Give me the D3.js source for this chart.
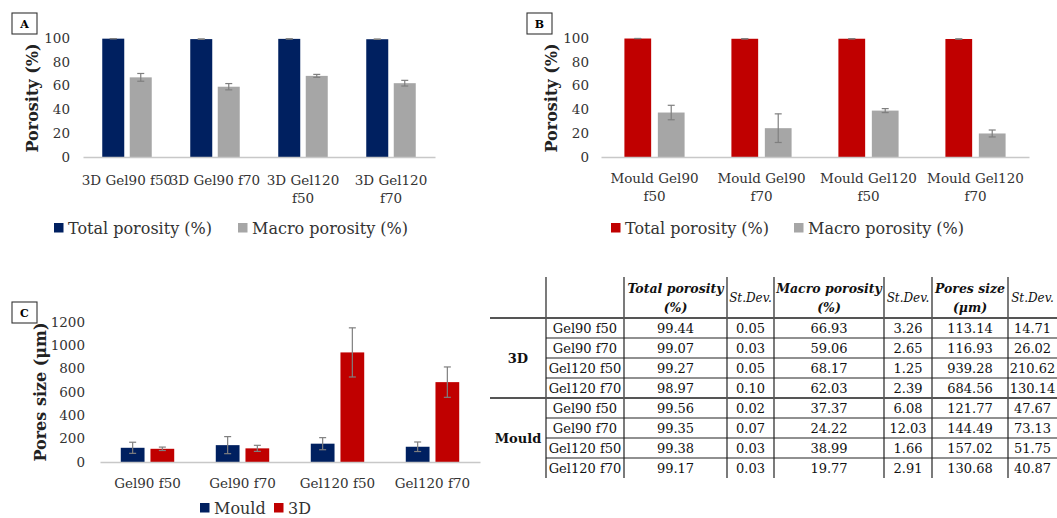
<!DOCTYPE html>
<html>
<head>
<meta charset="utf-8">
<script src="https://cdn.jsdelivr.net/npm/d3@7"></script>
<style>
  body { margin: 0; background: #fff; }
  svg { display: block; font-family: "DejaVu Serif", serif; }
</style>
</head>
<body>
<svg id="chart" width="1057" height="518"></svg>
<script>
const groups = ['Gel90 f50', 'Gel90 f70', 'Gel120 f50', 'Gel120 f70'];

const total3D = [99.44, 99.07, 99.27, 98.97];
const total3DSd = [0.05, 0.03, 0.05, 0.10];
const macro3D = [66.93, 59.06, 68.17, 62.03];
const macro3DSd = [3.26, 2.65, 1.25, 2.39];
const pores3D = [113.14, 116.93, 939.28, 684.56];
const pores3DSd = [14.71, 26.02, 210.62, 130.14];

const totalMould = [99.56, 99.35, 99.38, 99.17];
const totalMouldSd = [0.02, 0.07, 0.03, 0.03];
const macroMould = [37.37, 24.22, 38.99, 19.77];
const macroMouldSd = [6.08, 12.03, 1.66, 2.91];
const poresMould = [121.77, 144.49, 157.02, 130.68];
const poresMouldSd = [47.67, 73.13, 51.75, 40.87];

const labelsA = [['3D Gel90 f50'], ['3D Gel90 f70'], ['3D Gel120', 'f50'], ['3D Gel120', 'f70']];
const labelsB = [['Mould Gel90', 'f50'], ['Mould Gel90', 'f70'], ['Mould Gel120', 'f50'], ['Mould Gel120', 'f70']];
const labelsC = groups.map(g => [g]);

const porosityTicks = [0, 20, 40, 60, 80, 100];
const poreTicks = [0, 200, 400, 600, 800, 1000, 1200];

const tableHeader = [['', ''], ['Total porosity', '(%)'], ['St.Dev.'], ['Macro porosity', '(%)'], ['St.Dev.'], ['Pores size', '(μm)'], ['St.Dev.']];

const navy = '#002060', red = '#c00000', grey = '#a6a6a6', errCol = '#7f7f7f';

const svg = d3.select('#chart');
svg.append('rect').attr('width', 1057).attr('height', 518).attr('fill', '#fff');

function barPanel(o) {
  let g = svg.append('g');

  let x = d3.scaleBand().domain(d3.range(o.labels.length)).range([o.x0, o.x1]);
  let sub = d3.scaleBand().domain(d3.range(o.series.length))
    .range([0, x.bandwidth()]).paddingInner(0.2).paddingOuter(0.7);
  let y = d3.scaleLinear().domain([0, d3.max(o.ticks)]).range([o.y0, o.y1]);

  // y axis labels
  g.append('g')
    .attr('transform', 'translate(' + o.x0 + ',0)')
    .call(d3.axisLeft(y).tickValues(o.ticks).tickFormat(d3.format('d'))
      .tickSize(0).tickPadding(o.x0 - o.tickRight))
    .call(s => s.select('.domain').remove())
    .call(s => s.selectAll('text')
      .attr('font-family', '"DejaVu Serif", serif')
      .attr('font-size', 13.5)
      .attr('fill', '#333'));

  // bars
  o.series.forEach((s, si) => {
    g.append('g').selectAll('rect')
      .data(s.values)
      .join('rect')
      .attr('x', (d, i) => x(i) + sub(si))
      .attr('y', d => y(d))
      .attr('width', sub.bandwidth())
      .attr('height', d => y(0) - y(d))
      .attr('fill', s.color);

    // error bars
    let eb = g.append('g').attr('stroke', errCol).attr('stroke-width', 1.2);
    s.values.forEach((v, i) => {
      let cx = x(i) + sub(si) + sub.bandwidth() / 2;
      let lo = y(v - s.sd[i]), hi = y(v + s.sd[i]);
      eb.append('line').attr('x1', cx).attr('x2', cx).attr('y1', lo).attr('y2', hi);
      eb.append('line').attr('x1', cx - 3.5).attr('x2', cx + 3.5).attr('y1', lo).attr('y2', lo);
      eb.append('line').attr('x1', cx - 3.5).attr('x2', cx + 3.5).attr('y1', hi).attr('y2', hi);
    });
  });

  // x axis
  g.append('g')
    .attr('transform', 'translate(0,' + o.y0 + ')')
    .call(d3.axisBottom(x).tickSize(0).tickFormat(''))
    .call(s => s.select('.domain').attr('stroke', '#c8c8c8').attr('stroke-width', 1.5));

  g.append('g').selectAll('text')
    .data(o.labels)
    .join('text')
    .attr('x', (d, i) => x(i) + x.bandwidth() / 2)
    .attr('y', o.labelY)
    .attr('text-anchor', 'middle')
    .attr('font-size', 13.5)
    .attr('fill', '#333')
    .selectAll('tspan')
    .data(d => d)
    .join('tspan')
    .attr('x', function() { return this.parentNode.getAttribute('x'); })
    .attr('dy', (d, i) => i ? 18 : 0)
    .text(d => d);

  // y title
  g.append('text')
    .attr('transform', 'translate(' + o.titleX + ',' + o.titleY + ') rotate(-90)')
    .attr('text-anchor', 'middle')
    .attr('font-size', 16)
    .attr('font-weight', 'bold')
    .attr('fill', '#222')
    .text(o.title);

  // legend
  o.series.forEach((s, si) => {
    let lx = o.legendX[si];
    g.append('rect').attr('x', lx).attr('y', o.legendY - 5).attr('width', 9.5).attr('height', 9.5).attr('fill', s.color);
    g.append('text').attr('x', lx + 14).attr('y', o.legendY).attr('dy', '0.35em')
      .attr('font-size', 16).attr('fill', '#333').text(s.name);
  });

  // panel letter
  g.append('rect').attr('x', o.box[0]).attr('y', o.box[1]).attr('width', 25).attr('height', 21)
    .attr('fill', '#fff').attr('stroke', '#333').attr('stroke-width', 1.1);
  g.append('text').attr('x', o.box[0] + 12.5).attr('y', o.box[1] + 11).attr('dy', '0.35em')
    .attr('text-anchor', 'middle').attr('font-size', 11).attr('font-weight', 'bold').text(o.letter);
}

barPanel({
  letter: 'A', box: [12, 13],
  x0: 83, x1: 435, y0: 157, y1: 38, tickRight: 70,
  ticks: porosityTicks, labels: labelsA, labelY: 185,
  title: 'Porosity (%)', titleX: 38, titleY: 98,
  legendX: [54, 238], legendY: 228,
  series: [
    { name: 'Total porosity (%)', color: navy, values: total3D, sd: total3DSd },
    { name: 'Macro porosity (%)', color: grey, values: macro3D, sd: macro3DSd }
  ]
});

barPanel({
  letter: 'B', box: [527, 13],
  x0: 601, x1: 1029, y0: 157, y1: 38, tickRight: 589,
  ticks: porosityTicks, labels: labelsB, labelY: 183,
  title: 'Porosity (%)', titleX: 557, titleY: 98,
  legendX: [611, 794], legendY: 228,
  series: [
    { name: 'Total porosity (%)', color: red, values: totalMould, sd: totalMouldSd },
    { name: 'Macro porosity (%)', color: grey, values: macroMould, sd: macroMouldSd }
  ]
});

barPanel({
  letter: 'C', box: [12, 302],
  x0: 100, x1: 480, y0: 462, y1: 322, tickRight: 85,
  ticks: poreTicks, labels: labelsC, labelY: 488,
  title: 'Pores size (μm)', titleX: 46, titleY: 392,
  legendX: [200, 274], legendY: 508,
  series: [
    { name: 'Mould', color: navy, values: poresMould, sd: poresMouldSd },
    { name: '3D', color: red, values: pores3D, sd: pores3DSd }
  ]
});

// ---- table ----
const colX = [490, 546, 624, 727, 774, 884, 932, 1008, 1057];
const rowY = [277, 318, 338, 358, 378, 398, 418, 438, 458, 478];
let tg = svg.append('g').attr('font-size', 13).attr('fill', '#111');

let rows = [];
groups.forEach((gname, i) => rows.push([gname, total3D[i], total3DSd[i], macro3D[i], macro3DSd[i], pores3D[i], pores3DSd[i]]));
groups.forEach((gname, i) => rows.push([gname, totalMould[i], totalMouldSd[i], macroMould[i], macroMouldSd[i], poresMould[i], poresMouldSd[i]]));

// vertical lines
tg.selectAll('line.v')
  .data(colX.slice(1, 8))
  .join('line')
  .attr('x1', d => d).attr('x2', d => d)
  .attr('y1', rowY[0]).attr('y2', rowY[9])
  .attr('stroke', '#222').attr('stroke-width', 1.2);

// horizontal lines
rowY.slice(1, 9).forEach((yy, i) => {
  let thick = (i === 0 || i === 4);
  tg.append('line')
    .attr('x1', thick ? 490 : colX[1]).attr('x2', 1057)
    .attr('y1', yy).attr('y2', yy)
    .attr('stroke', thick ? '#555' : '#222')
    .attr('stroke-width', thick ? 2 : 1.2);
});

// header
tableHeader.forEach((h, ci) => {
  let cx = (colX[ci + 1] + colX[ci + 2]) / 2;
  let t = tg.append('text').attr('x', cx).attr('text-anchor', 'middle').attr('font-style', 'italic');
  if (h.length === 2) {
    t.attr('font-weight', 'bold').attr('font-size', 12.5);
    t.append('tspan').attr('x', cx).attr('y', 293).text(h[0]);
    t.append('tspan').attr('x', cx).attr('y', 312).text(h[1]);
  } else {
    t.attr('font-size', 12).attr('y', 302).text(h[0]);
  }
});

// body
rows.forEach((r, ri) => {
  let cy = (rowY[ri + 1] + rowY[ri + 2]) / 2;
  r.forEach((v, ci) => {
    tg.append('text')
      .attr('x', (colX[ci + 1] + colX[ci + 2]) / 2)
      .attr('y', cy).attr('dy', '0.35em')
      .attr('text-anchor', 'middle')
      .text(typeof v === 'number' ? v.toFixed(2) : v);
  });
});

// group labels
[['3D', 358], ['Mould', 438]].forEach(d => {
  tg.append('text').attr('x', 518).attr('y', d[1]).attr('dy', '0.35em')
    .attr('text-anchor', 'middle').attr('font-weight', 'bold').text(d[0]);
});
</script>
</body>
</html>
